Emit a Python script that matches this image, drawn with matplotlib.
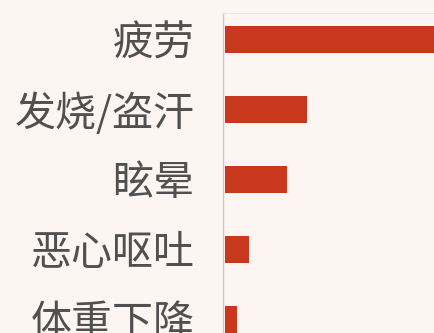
import matplotlib.pyplot as plt

plt.rcParams['font.family'] = ['Noto Sans CJK SC', 'DejaVu Sans']

symptoms = ["疲劳", "发烧/盗汗", "眩晕", "恶心呕吐", "体重下降"]
share = [118, 41, 31, 12, 6]

bg = "#fdf5f1"
bar_color = "#c9381c"

fig = plt.figure(figsize=(4.35, 3.33), dpi=100)
fig.patch.set_facecolor(bg)

# axes frame starts right of the labels and runs past the bottom/right edges
ax = fig.add_axes([223.5 / 435, -0.2, 1.0, 1.2 - 13 / 333])
ax.set_facecolor(bg)

ypos = list(range(len(symptoms)))
ax.barh(ypos, share, height=0.38, color=bar_color, zorder=2)

# one value unit = 2 px
px_w = 435 * 1.0
ax.set_xlim(-0.8, -0.8 + px_w / 2)
top = 13
bottom = 333 + 0.2 * 333
ax.set_ylim((bottom - 39.5) / 70, (top - 39.5) / 70)

ax.set_yticks(ypos)
ax.set_yticklabels(symptoms, fontsize=29.5, color="#505050")
ax.tick_params(axis="y", length=0, pad=29 / 100 * 72)
ax.set_xticks([])

for side in ["right", "bottom"]:
    ax.spines[side].set_visible(False)
ax.spines["left"].set_color("#c8c8c8")
ax.spines["left"].set_linewidth(1.0)
ax.spines["top"].set_color("#ede4ee")
ax.spines["top"].set_linewidth(0.8)

fig.savefig("out.png", dpi=100, facecolor=bg)
